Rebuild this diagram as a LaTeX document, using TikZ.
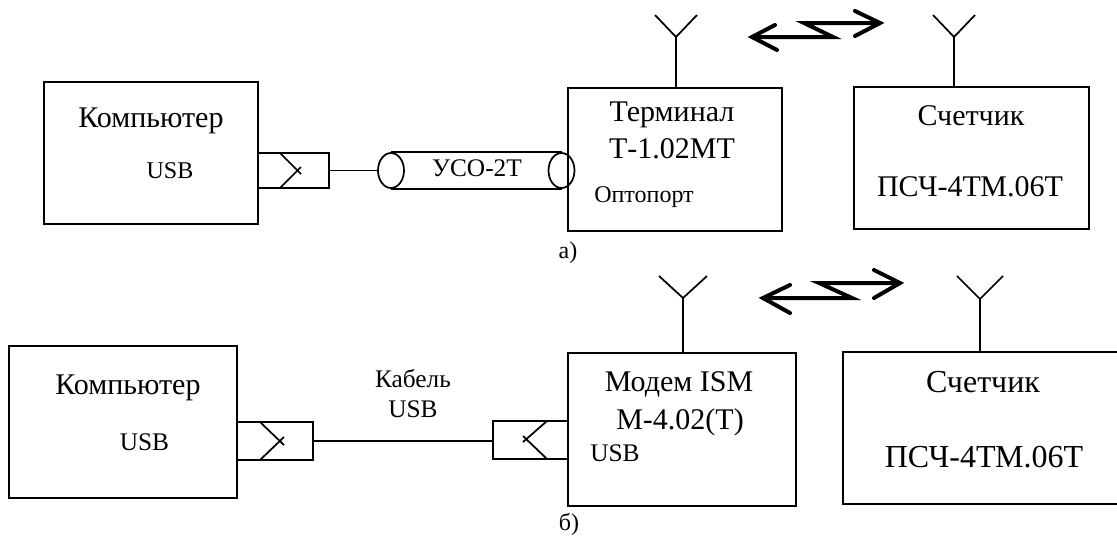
\documentclass[tikz,border=0pt]{standalone}
\usepackage{fontspec}
\setmainfont{Liberation Serif}
\usetikzlibrary{fit,shapes.geometric}
\tikzset{
  blk/.style={draw, line width=1.3pt, inner sep=0pt, fit={#1}},
  endcap/.style={draw, ellipse, line width=1.3pt, inner sep=0pt, minimum width=19.5pt, minimum height=26.25pt},
  wire/.style={line width=1.3pt},
  radio/.style={line width=3pt, line cap=round, line join=miter},
  txtL/.style={anchor=base, inner sep=0pt, font=\fontsize{22.5pt}{26pt}\selectfont},
  txtXL/.style={anchor=base, inner sep=0pt, font=\fontsize{24pt}{28pt}\selectfont},
  txtS/.style={anchor=base, inner sep=0pt, font=\fontsize{18pt}{21pt}\selectfont},
  txtM/.style={anchor=base, inner sep=0pt, font=\fontsize{19pt}{22pt}\selectfont},
}
\begin{document}
\begin{tikzpicture}[x=0.75pt,y=-0.75pt]
\useasboundingbox (0,0) rectangle (1117,537);
\clip (0,0) rectangle (1117,537);
\fill[white] (0,0) rectangle (1117,537);

% ---------------- a) ----------------
\node[blk={(44,82) (258,224)}] (pcA) {};
\node[txtL] (pcAt) at (151,127) {Компьютер};
\node[txtS] (pcAu) at (170,178) {USB};
\node[blk={(258,153) (329,188)}] (cA) {};
\draw[wire] (280,153) -- (301,174);
\draw[wire] (280,188) -- (301,167);
\node[endcap] (eL) at (391,170.5) {};
\node[endcap] (eR) at (561.5,170.5) {};
\draw[wire] (eL.north) -- (eR.north);
\draw[wire] (eL.south) -- (eR.south);
\draw[wire] (cA.east) -- (eL.west);
\node[txtM] (uso) at (477,176) {УСО-2Т};
\node[blk={(568,88) (782,231)}] (term) {};
\node[txtL] (termt1) at (672,121) {Терминал};
\node[txtL] (termt2) at (672,158) {Т-1.02МТ};
\node[txtS] (termt3) at (644,202) {Оптопорт};
\node[txtS] (labA) at (568,258) {а)};
\node[blk={(854,87) (1089,229)}] (metA) {};
\node[txtL] (metAt1) at (971,125) {Счетчик};
\node[txtL] (metAt2) at (970,196) {ПСЧ-4ТМ.06Т};
% antennas
\coordinate (antA1) at (676,37);
\draw[wire] (antA1 |- term.north) -- (antA1);
\draw[wire] (655,15) -- (antA1) -- (697,15);
\coordinate (antA2) at (954,37);
\draw[wire] (antA2 |- metA.north) -- (antA2);
\draw[wire] (933,15) -- (antA2) -- (975,15);
% radio link
\draw[radio] (775,25) -- (752,37) -- (777,50);
\draw[radio] (752,37) -- (833,37) -- (804,23) -- (880,23);
\draw[radio] (855,11) -- (880,23) -- (855,36);

% ---------------- б) ----------------
\node[blk={(9,346) (237,498)}] (pcB) {};
\node[txtL] (pcBt) at (128,394) {Компьютер};
\node[txtM] (pcBu) at (144.5,450) {USB};
\node[blk={(237,422) (313,460)}] (cL) {};
\draw[wire] (260,422) -- (284,445);
\draw[wire] (260,460) -- (284,437);
\node[blk={(493,421) (568,459)}] (cR) {};
\draw[wire] (547,421) -- (523,442);
\draw[wire] (547,459) -- (523,436);
\draw[wire] (cL.east) -- (cL.east -| cR.west);
\node[txtM] (cab1) at (413,387) {Кабель};
\node[txtM] (cab2) at (413,417) {USB};
\node[blk={(568,353) (796,506)}] (mod) {};
\node[txtL] (modt1) at (679,391) {Модем ISM};
\node[txtL] (modt2) at (680,429) {М-4.02(Т)};
\node[txtM] (modt3) at (615,461) {USB};
\node[txtS] (labB) at (569,530) {б)};
\node[blk={(843,352) (1125,504)}] (metB) {};
\node[txtXL] (metBt1) at (983,392) {Счетчик};
\node[txtXL] (metBt2) at (984,467) {ПСЧ-4ТМ.06Т};
\coordinate (antB1) at (683,298);
\draw[wire] (antB1 |- mod.north) -- (antB1);
\draw[wire] (659,276) -- (antB1) -- (707,276);
\coordinate (antB2) at (980,299);
\draw[wire] (antB2 |- metB.north) -- (antB2);
\draw[wire] (957,276) -- (antB2) -- (1003,276);
\draw[radio] (790,285) -- (763,298) -- (790,313);
\draw[radio] (763,298) -- (852,298) -- (819,283) -- (900,283);
\draw[radio] (874,270) -- (900,283) -- (874,298);
\end{tikzpicture}
\end{document}
